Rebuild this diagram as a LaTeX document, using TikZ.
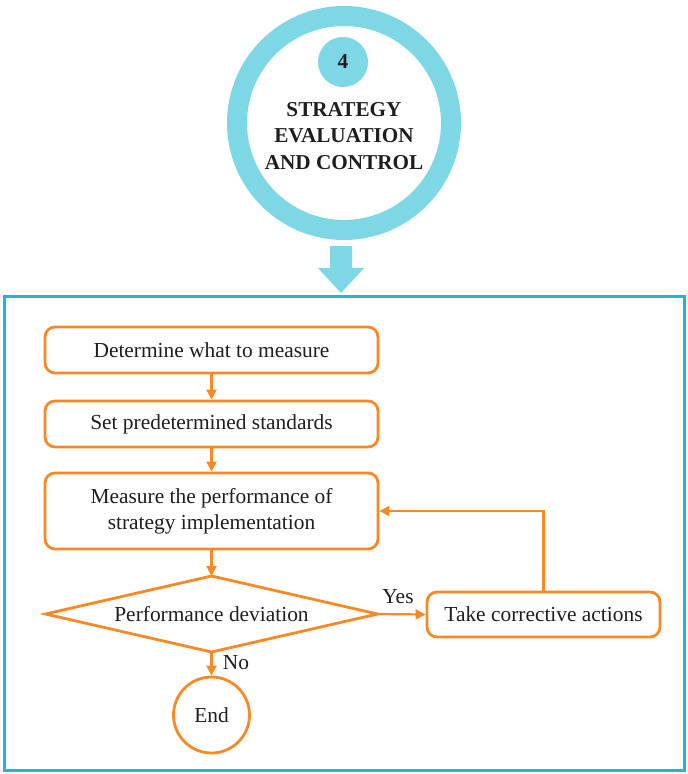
\documentclass[tikz,border=0pt]{standalone}
\usepackage{fontspec}
\setmainfont{Liberation Serif}
\usetikzlibrary{arrows.meta,shapes.geometric}
\definecolor{ringc}{RGB}{125,215,228}
\definecolor{framec}{RGB}{30,184,208}
\definecolor{orng}{RGB}{247,137,38}
\definecolor{txtc}{RGB}{30,30,30}
\tikzset{
  flowbox/.style={draw=orng, line width=1.4pt, rounded corners=5pt, fill=white, inner sep=0pt, align=center, text=txtc, font=\fontsize{10.7}{13}\selectfont},
  flowline/.style={draw=orng, line width=1.1pt, -{Triangle[length=5pt,width=5pt]}},
  lbl/.style={text=txtc, font=\fontsize{10.7}{13}\selectfont, inner sep=0pt},
}
\begin{document}
\begin{tikzpicture}[x=0.5pt,y=-0.5pt]
\useasboundingbox (0,0) rectangle (688,774);
% big ring
\node[circle, draw=ringc, line width=10pt, minimum size=107pt, inner sep=0pt] (ring) at (344,123) {};
\node[circle, fill=ringc, minimum size=25pt, inner sep=0pt, text=txtc, font=\bfseries\fontsize{10.6}{13}\selectfont] (num) at (343,62) {4};
\node[text=txtc, align=center, font=\bfseries\fontsize{10.6}{13.25}\selectfont, inner sep=0pt] (title) at (344,136) {STRATEGY\\EVALUATION\\AND CONTROL};
% down arrow
\fill[ringc] (330,246) -- (352,246) -- (352,268) -- (364,268) -- (341,293) -- (318,268) -- (330,268) -- cycle;
% frame
\draw[framec, line width=1.5pt] (4,297) rectangle (684,770);
% boxes
\node[flowbox, minimum width=166.5pt, minimum height=23pt] (b1) at (211.5,350) {Determine what to measure};
\node[flowbox, minimum width=166.5pt, minimum height=23pt] (b2) at (211.5,424) {Set predetermined standards};
\node[flowbox, minimum width=166.5pt, minimum height=38pt] (b3) at (211.5,511) {Measure the performance of\\strategy implementation};
% diamond
\coordinate (dT) at (211.5,576);
\coordinate (dR) at (377.5,614);
\coordinate (dB) at (211.5,652);
\coordinate (dL) at (45.5,614);
\draw[orng, line width=1.4pt, line join=miter] (dT) -- (dR) -- (dB) -- (dL) -- cycle;
\node[lbl] (dev) at (211.5,614) {Performance deviation};
\node[flowbox, minimum width=116.5pt, minimum height=22.5pt] (take) at (543.5,614.5) {Take corrective actions};
\node[circle, draw=orng, line width=1.4pt, minimum size=38pt, inner sep=0pt, text=txtc, font=\fontsize{10.7}{13}\selectfont] (end) at (211.5,715) {End};
% connectors
\draw[flowline] (b1) -- (b2);
\draw[flowline] (b2) -- (b3);
\draw[flowline] (b3.south) -- (dT);
\draw[flowline] (dR) -- (take.west);
\draw[flowline] (dB) -- (end.north);
\draw[flowline] (take.north) |- (b3.east);
\node[lbl] (yes) at (398,597) {Yes};
\node[lbl] (no) at (236,663) {No};
\end{tikzpicture}
\end{document}
